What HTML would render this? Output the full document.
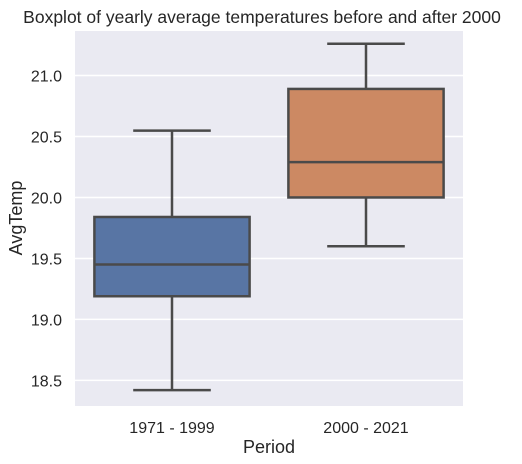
<!DOCTYPE html>
<html><head><meta charset="utf-8"><style>
body{margin:0;background:#fff;}
svg{display:block;font-family:"Liberation Sans",Arial,sans-serif;}
</style></head><body>
<svg id="chart" width="522" height="464">
<text x="262" y="23" text-anchor="middle" font-size="17.5" fill="#262626">Boxplot of yearly average temperatures before and after 2000</text>
<rect x="75" y="31" width="388" height="375" fill="#eaeaf2"/>
<g id="grid"></g>
<g id="boxes"></g>
<text transform="translate(22,218) rotate(-90)" text-anchor="middle" font-size="18" fill="#262626">AvgTemp</text>
<text x="269" y="453" text-anchor="middle" font-size="18" fill="#262626">Period</text>
</svg>
<script>
const categories=["1971 - 1999","2000 - 2021"];
const whiskerLow=[18.42,19.60];
const q1=[19.19,20.00];
const medians=[19.45,20.29];
const q3=[19.84,20.89];
const whiskerHigh=[20.548,21.26];
const colors=["#5875a4","#cc8963"];
const yTicks=[18.5,19.0,19.5,20.0,20.5,21.0];
const NS="http://www.w3.org/2000/svg";
const yMin=18.29,yMax=21.365,plotTop=31,plotBottom=406,plotLeft=75,plotRight=463;
function y(v){return plotBottom-(v-yMin)/(yMax-yMin)*(plotBottom-plotTop);}
function x(i){return plotLeft+(i+0.5)*(plotRight-plotLeft)/categories.length;}
const bw=(plotRight-plotLeft)/categories.length*0.8;
function mk(tag,attrs,parent){const e=document.createElementNS(NS,tag);for(const k in attrs)e.setAttribute(k,attrs[k]);parent.appendChild(e);return e;}
const grid=document.getElementById('grid'),boxes=document.getElementById('boxes'),svg=document.getElementById('chart');
yTicks.forEach(t=>{
 const l=mk('line',{x1:plotLeft,x2:plotRight,y1:y(t),y2:y(t),stroke:'#fff','stroke-width':1.5},grid);
 
 
 const tx=mk('text',{x:62,y:y(t)+6,'text-anchor':'end','font-size':16,fill:'#262626'},svg);
 tx.textContent=t.toFixed(1);
 
 
});
categories.forEach((c,i)=>{
 const cx=x(i),st='#4a4a4a';
 const g=mk('g',{},boxes);
 
 
 mk('line',{x1:cx,x2:cx,y1:y(q3[i]),y2:y(whiskerHigh[i]),stroke:st,'stroke-width':2.5},g);
 mk('line',{x1:cx,x2:cx,y1:y(q1[i]),y2:y(whiskerLow[i]),stroke:st,'stroke-width':2.5},g);
 mk('line',{x1:cx-bw/4,x2:cx+bw/4,y1:y(whiskerHigh[i]),y2:y(whiskerHigh[i]),stroke:st,'stroke-width':2.5},g);
 mk('line',{x1:cx-bw/4,x2:cx+bw/4,y1:y(whiskerLow[i]),y2:y(whiskerLow[i]),stroke:st,'stroke-width':2.5},g);
 mk('rect',{x:cx-bw/2,y:y(q3[i]),width:bw,height:y(q1[i])-y(q3[i]),fill:colors[i],stroke:st,'stroke-width':2.5},g);
 mk('line',{x1:cx-bw/2,x2:cx+bw/2,y1:y(medians[i]),y2:y(medians[i]),stroke:st,'stroke-width':2.5},g);
 const tx=mk('text',{x:cx,y:433,'text-anchor':'middle','font-size':16,fill:'#262626'},svg);
 tx.textContent=c;
 
 
});
</script>
</body></html>
